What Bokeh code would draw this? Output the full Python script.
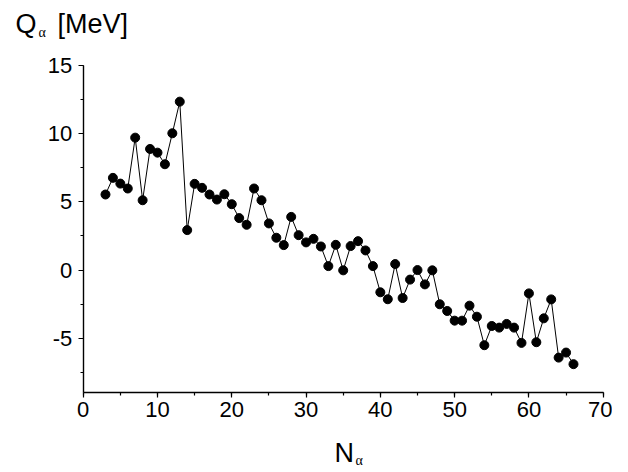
from bokeh.plotting import figure
from bokeh.models import Range1d, Label, SingleIntervalTicker
from bokeh.embed import file_html
from bokeh.resources import INLINE

n_alpha = list(range(3, 67))
q_alpha = [5.54, 6.76, 6.34, 5.98, 9.71, 5.12, 8.88, 8.61, 7.76, 10.03,
           12.35, 2.93, 6.32, 6.03, 5.54, 5.17, 5.56, 4.83, 3.81, 3.32,
           5.98, 5.12, 3.42, 2.37, 1.83, 3.90, 2.56, 2.03, 2.29, 1.73,
           0.29, 1.85, -0.02, 1.76, 2.12, 1.44, 0.29, -1.63, -2.14, 0.44,
           -2.05, -0.70, 0.00, -1.05, -0.02, -2.51, -3.00, -3.71, -3.71, -2.61,
           -3.42, -5.51, -4.10, -4.22, -3.95, -4.22, -5.34, -1.71, -5.29, -3.54,
           -2.15, -6.42, -6.05, -6.90]
y_tick_labels = {-5: "-5", 0: "0", 5: "5", 10: "10", 15: "15"}

W, H = 612, 472
X0, X1 = 0, 70
Y0, Y1 = -9, 15
# plot area in pixels (left, right, top, bottom)
PL, PR, PT, PB = 82.7, 602.7, 65.0, 392.3
sx = (PR - PL) / (X1 - X0)
sy = (PB - PT) / (Y1 - Y0)

p = figure(width=W, height=H, output_backend="svg", toolbar_location=None,
           x_range=Range1d(X0 - PL / sx, X1 + (W - PR) / sx),
           y_range=Range1d(Y0 - (H - PB) / sy, Y1 + PT / sy),
           min_border=0)
p.outline_line_color = None
p.grid.grid_line_color = None

p.xaxis.ticker = SingleIntervalTicker(interval=10, num_minor_ticks=2)
p.yaxis.ticker = SingleIntervalTicker(interval=5, num_minor_ticks=2)
p.xaxis.fixed_location = Y0
p.yaxis.fixed_location = X0
p.xaxis.bounds = (X0, X1)
p.yaxis.bounds = (Y0, Y1)
p.yaxis.major_label_overrides = y_tick_labels

for ax in (p.xaxis, p.yaxis):
    ax.axis_line_color = "black"
    ax.axis_line_width = 1.4
    ax.major_tick_line_color = "black"
    ax.minor_tick_line_color = "black"
    ax.major_tick_line_width = 1.2
    ax.minor_tick_line_width = 1.2
    ax.major_tick_out = 5
    ax.major_tick_in = 0
    ax.minor_tick_out = 3
    ax.minor_tick_in = 0
    ax.major_label_text_font = "Liberation Sans"
    ax.major_label_text_font_size = "22px"
    ax.major_label_text_color = "black"

p.xaxis.major_label_standoff = 4
p.yaxis.major_label_standoff = 6

p.line(n_alpha, q_alpha, line_color="black", line_width=1)
p.scatter(n_alpha, q_alpha, size=9, fill_color="black", line_color="black")

DY = 11  # empirical baseline correction

def lab(px, py, t, size, font="Liberation Sans"):
    p.add_layout(Label(x=X0 + (px - PL) / sx, y=Y1 - (py - DY - PT) / sy, text=t,
                       text_font=font, text_font_size=size, text_color="black",
                       text_baseline="alphabetic", text_align="left"))

lab(15, 34, "Q", "27px")
lab(38, 43, "α", "14px", "Liberation Serif")
lab(57, 34, "[MeV]", "27px")
lab(334, 463, "N", "27px")
lab(355, 471, "α", "14px", "Liberation Serif")

open("out.html", "w").write(file_html(p, INLINE))
